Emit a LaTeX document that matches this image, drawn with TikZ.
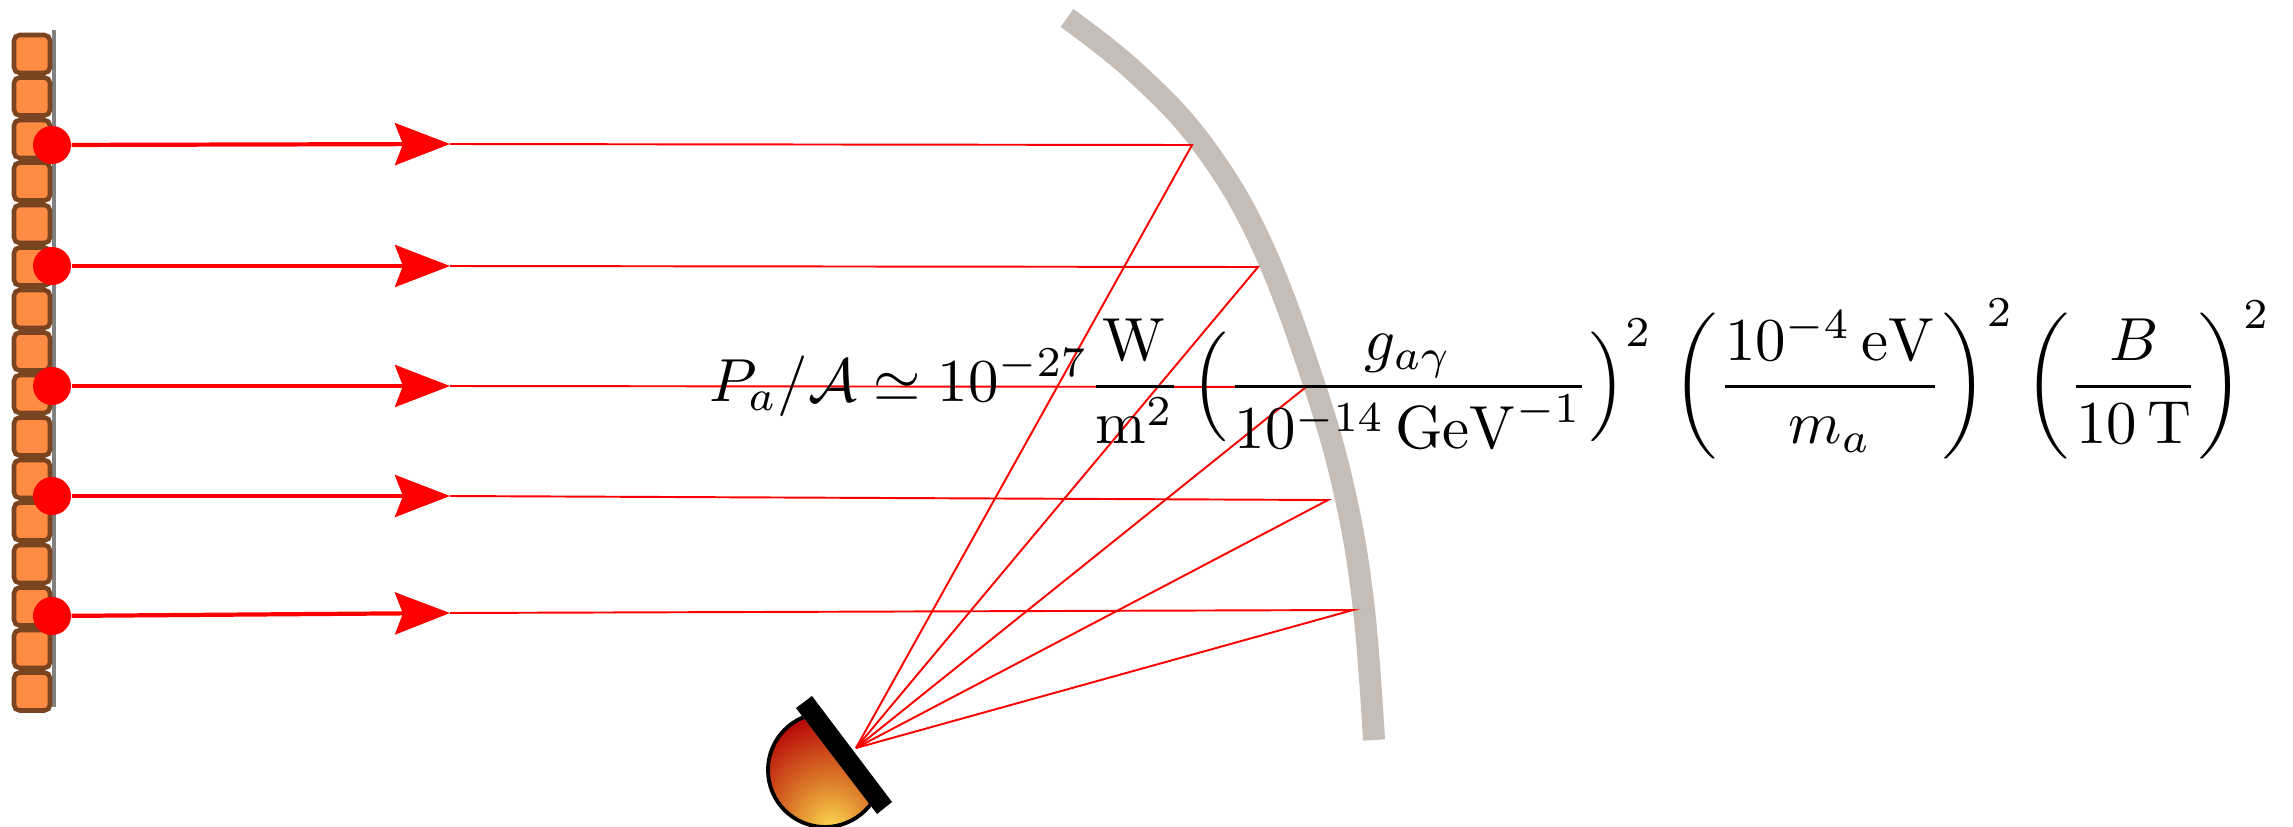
\documentclass[tikz,border=0pt]{standalone}
\usepackage{amsmath}
\usepackage{amssymb}
\usepackage{xcolor}
\usepackage{tikz}
\usetikzlibrary{arrows.meta}

\definecolor{brickfill}{RGB}{255,140,66}
\definecolor{brickline}{RGB}{122,68,32}
\definecolor{mirrorgray}{RGB}{199,189,183}
\pgfdeclareradialshading{detshade}{\pgfpoint{3bp}{-27bp}}{
  rgb(0bp)=(1,0.87,0.32);
  rgb(18bp)=(0.86,0.48,0.16);
  rgb(40bp)=(0.72,0.03,0.03);
  rgb(100bp)=(0.70,0,0)}

\begin{document}
\begin{tikzpicture}[
    x=0.01cm, y=-0.01cm,
    brick/.style={draw=brickline, fill=brickfill, line width=1.3pt, rounded corners=1.6pt},
    wall_line/.style={gray, line width=1.1pt},
    dot/.style={circle, fill=red, inner sep=0pt, minimum size=0.38cm},
    ray_thick/.style={red, line width=1.2pt, -{Stealth[length=0.55cm, width=0.42cm, inset=0.08cm]}},
    ray_thin/.style={red, line width=0.55pt},
    mirror_style/.style={mirrorgray, line width=0.22cm}
  ]
  \useasboundingbox (0,0) rectangle (2293,827);

  % 1. Mirror
  \draw[mirror_style] plot[smooth, tension=0.65] coordinates {
    (1067,18) (1135,72) (1203,145) (1262,245) (1315,387) (1346,499) (1364,610) (1374,740)};

  % 2. Wall with bricks
  \draw[wall_line] (54,30) -- (54,707);
  \foreach \i in {0,...,15} {
    \draw[brick] (14,35+42.5*\i) rectangle (50,73+42.5*\i);
  }

  % 3. Emitters and incoming rays
  \coordinate (F) at (856,748);
  \foreach \n/\y/\tx/\ty/\mx/\my in {
    1/145/450/144/1192/145,
    2/266/450/266/1258/267,
    3/386/450/386/1306/387,
    4/496/450/496/1328/500,
    5/616/450/613/1353/610} {
    \node[dot] (d\n) at (52,\y) {};
    \coordinate (t\n) at (\tx,\ty);
    \coordinate (m\n) at (\mx,\my);
    \draw[ray_thick] (d\n) -- (t\n);
    \draw[ray_thin] (t\n) -- (m\n) -- (F);
  }

  % 4. Detector
  \begin{scope}
    \clip (796,708) -- (877,814) -- (700,900) -- (600,700) -- cycle;
    \shade[shading=detshade] (825,770) circle (57);
    \draw[black, line width=1.1pt] (825,770) circle (57);
  \end{scope}
  \fill[black] (796,708) -- (812,696) -- (892,802) -- (877,814) -- cycle;

  % 5. Formula
  \node[scale=1.73] (formula) at (1490,379) {$\displaystyle
    P_a/\mathcal{A} \simeq 10^{-27}\frac{\mathrm{W}}{\mathrm{m}^2}\,
    \Big(\frac{g_{a\gamma}}{10^{-14}\,\mathrm{GeV}^{-1}}\Big)^2\,
    \left(\frac{10^{-4}\,\mathrm{eV}}{m_a}\right)^2
    \left(\frac{B}{10\,\mathrm{T}}\right)^2$};

\end{tikzpicture}
\end{document}
